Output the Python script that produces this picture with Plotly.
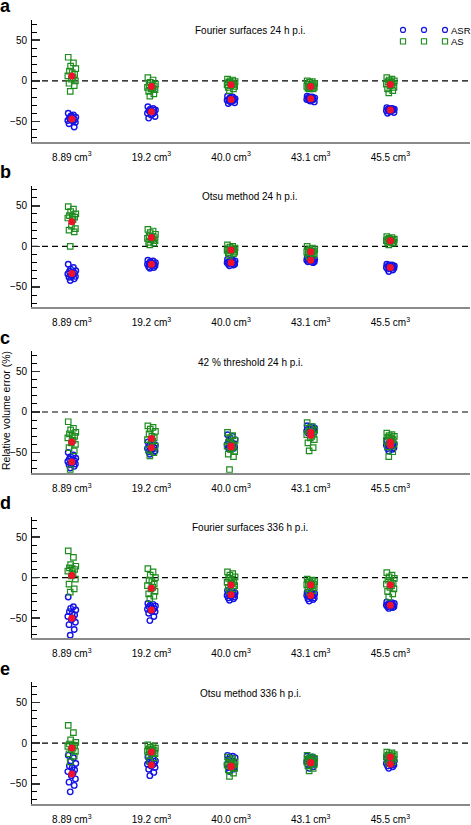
import plotly.graph_objects as go

# ---------------- data ----------------
CATEGORIES = ["8.89 cm<sup>3</sup>", "19.2 cm<sup>3</sup>", "40.0 cm<sup>3</sup>",
              "43.1 cm<sup>3</sup>", "45.5 cm<sup>3</sup>"]
PANEL_LETTERS = ["a", "b", "c", "d", "e"]
PANEL_TITLES = ["Fourier surfaces 24 h p.i.", "Otsu method 24 h p.i.",
                "42 % threshold 24 h p.i.", "Fourier surfaces 336 h p.i.",
                "Otsu method 336 h p.i."]
SERIES_NAMES = ["ASR", "AS"]
Y_LABEL = "Relative volume error (%)"

# horizontal jitter (category units) applied to the n-th repeat in each group
JITTER = [-0.045, 0.02, -0.015, 0.05, -0.03, 0.005, 0.035, -0.05, 0.015, -0.005, 0.045, -0.035, 0.03, -0.02]

A_ASR = [[-40, -42, -44, -45, -46, -47, -48, -49, -50, -43, -51, -53, -57, -46],
         [-32, -34, -35, -36, -37, -38, -39, -40, -41, -42, -44, -46, -36, -38],
         [-19, -20, -21, -22, -23, -23, -24, -24, -25, -26, -27, -28, -22, -25],
         [-19, -20, -20, -21, -22, -22, -23, -23, -24, -25, -26, -21, -22, -24],
         [-33, -34, -34, -35, -35, -36, -36, -37, -37, -38, -39, -40, -35, -36]]
A_AS = [[29, 22, 18, 15, 12, 10, 8, 6, 4, 2, 0, -3, -6, -13],
        [4, 1, -2, -4, -5, -6, -7, -8, -9, -10, -11, -13, -16, -19],
        [2, 1, 0, -1, -2, -3, -4, -5, -5, -6, -7, -8, -10, -12],
        [0, -1, -2, -3, -4, -5, -6, -7, -7, -8, -8, -9, -10, -10],
        [4, 2, 1, 0, -1, -2, -3, -4, -5, -6, -8, -10, -12, -15]]
A_ASR_MEAN = [-47, -38, -23, -22, -36]
A_AS_MEAN = [6, -7, -5, -7, -4.5]

B_ASR = [[-22, -26, -28, -30, -31, -32, -33, -34, -35, -36, -37, -38, -40, -42],
         [-17, -18, -19, -20, -21, -21, -22, -22, -23, -23, -24, -25, -26, -27],
         [-16, -17, -18, -18, -19, -19, -20, -20, -21, -21, -22, -22, -23, -24],
         [-14, -15, -15, -16, -16, -17, -17, -17, -18, -18, -19, -19, -20, -16],
         [-22, -23, -23, -24, -24, -25, -25, -26, -26, -27, -27, -28, -29, -31]]
B_AS = [[49, 46, 43, 40, 38, 37, 36, 35, 33, 25, 22, 20, 18, 0],
        [21, 19, 17, 15, 13, 12, 11, 10, 9, 8, 7, 5, 4, 2],
        [2, 0, -1, -2, -3, -4, -4, -5, -5, -6, -7, -8, -9, -11],
        [0, -2, -3, -4, -5, -6, -6, -7, -7, -8, -9, -10, -11, -13],
        [12, 11, 10, 9, 9, 8, 8, 7, 7, 6, 5, 5, 4, 2]]
B_ASR_MEAN = [-33.5, -22, -20, -17, -26]
B_AS_MEAN = [30.5, 11, -4.5, -6.6, 7]

C_ASR = [[-50, -53, -55, -57, -58, -59, -60, -61, -62, -63, -64, -65, -67, -69],
         [-37, -38, -40, -41, -42, -43, -44, -45, -46, -47, -48, -49, -50, -52],
         [-28, -30, -32, -34, -36, -38, -39, -40, -41, -42, -43, -44, -45, -46],
         [-17, -18, -19, -20, -21, -22, -22, -23, -24, -24, -25, -26, -20, -23],
         [-35, -37, -38, -39, -40, -40, -41, -41, -42, -43, -44, -45, -46, -48]]
C_AS = [[-12, -20, -22, -25, -27, -29, -30, -32, -35, -38, -40, -44, -48, -71],
        [-17, -19, -21, -24, -27, -30, -32, -34, -36, -38, -42, -46, -50, -54],
        [-25, -29, -32, -35, -37, -39, -41, -42, -44, -46, -49, -52, -55, -71],
        [-13, -18, -20, -22, -24, -26, -27, -28, -30, -32, -34, -38, -44, -48],
        [-26, -28, -29, -30, -31, -32, -34, -35, -36, -38, -40, -43, -49, -55]]
C_ASR_MEAN = [-61.5, -44, -42, -25, -41]
C_AS_MEAN = [-37, -32.6, -43, -28.5, -37]

D_ASR = [[-24, -36, -38, -40, -42, -44, -46, -48, -50, -52, -55, -58, -64, -71],
         [-32, -33, -34, -35, -36, -37, -38, -39, -40, -41, -42, -44, -48, -53],
         [-16, -17, -18, -19, -20, -20, -21, -22, -22, -23, -24, -25, -26, -28],
         [-18, -19, -20, -20, -21, -21, -22, -22, -23, -24, -25, -26, -27, -29],
         [-30, -31, -32, -32, -33, -33, -34, -34, -35, -35, -36, -36, -37, -38]]
D_AS = [[33, 25, 16, 14, 12, 11, 10, 8, 5, 2, -2, -8, -14, -18],
        [11, 7, 3, 0, -3, -5, -8, -10, -12, -14, -17, -20, -23, -26],
        [7, 5, 3, 1, -1, -3, -5, -6, -7, -8, -10, -12, -14, -16],
        [-2, -3, -4, -5, -6, -7, -8, -9, -10, -11, -12, -14, -16, -18],
        [6, 3, 1, -1, -3, -5, -7, -8, -10, -12, -14, -17, -20, -24]]
D_ASR_MEAN = [-50, -40, -21, -22, -34]
D_AS_MEAN = [2.5, -13, -9, -9, -9]

E_ASR = [[-15, -18, -22, -25, -28, -30, -33, -35, -37, -40, -44, -48, -52, -60],
         [-17, -19, -20, -22, -23, -24, -25, -26, -27, -28, -30, -32, -36, -40],
         [-15, -16, -17, -18, -20, -22, -24, -26, -27, -28, -29, -30, -32, -35],
         [-16, -17, -18, -19, -20, -21, -22, -23, -24, -25, -26, -27, -29, -31],
         [-19, -20, -21, -22, -23, -24, -25, -25, -26, -26, -27, -28, -29, -31]]
E_AS = [[22, 13, 4, 1, -1, -2, -3, -4, -6, -8, -10, -13, -16, -23],
        [-2, -4, -5, -6, -7, -8, -9, -10, -11, -12, -13, -15, -18, -22],
        [-17, -19, -21, -23, -24, -25, -26, -27, -28, -29, -31, -33, -37, -41],
        [-15, -17, -18, -19, -20, -21, -22, -23, -24, -25, -26, -28, -31, -34],
        [-11, -12, -13, -14, -15, -16, -16, -17, -18, -19, -20, -21, -23, -25]]
E_ASR_MEAN = [-38, -27, -28, -24, -26]
E_AS_MEAN = [-6, -11, -29, -24, -17]

PANELS = [(A_ASR, A_AS, A_ASR_MEAN, A_AS_MEAN),
          (B_ASR, B_AS, B_ASR_MEAN, B_AS_MEAN),
          (C_ASR, C_AS, C_ASR_MEAN, C_AS_MEAN),
          (D_ASR, D_AS, D_ASR_MEAN, D_AS_MEAN),
          (E_ASR, E_AS, E_ASR_MEAN, E_AS_MEAN)]

# ---------------- style / layout ----------------
W, H = 471, 825
BLUE = "#1414e6"
GREEN = "#1e8c1e"
RED = "#f2102a"
FONT = "Liberation Sans, Arial, Helvetica, sans-serif"
PANEL_TOP0, PANEL_STEP, PANEL_H = 20, 166, 122
X_LEFT, X_RIGHT = 32, 470


def px(x):
    return x / W


def py(y):
    return 1 - y / H


fig = go.Figure()
layout = dict(width=W, height=H, margin=dict(l=0, r=0, t=0, b=0),
              paper_bgcolor="white", plot_bgcolor="white", showlegend=False,
              font=dict(family=FONT, size=10, color="black"))
shapes, annotations = [], []
cat_pos = list(range(1, len(CATEGORIES) + 1))

for i, (asr, as_, asr_m, as_m) in enumerate(PANELS):
    n = "" if i == 0 else str(i + 1)
    xa, ya = "x" + n, "y" + n
    top = PANEL_TOP0 + PANEL_STEP * i
    bot = top + PANEL_H

    def pts(groups):
        xs, ys = [], []
        for j, g in enumerate(groups):
            for k, v in enumerate(g):
                xs.append(cat_pos[j] + JITTER[k % len(JITTER)])
                ys.append(v)
        return xs, ys

    bx, by = pts(asr)
    gx, gy = pts(as_)
    fig.add_trace(go.Scatter(x=bx, y=by, mode="markers", xaxis=xa, yaxis=ya, name=SERIES_NAMES[0],
                             marker=dict(symbol="circle-open", size=5.5, color=BLUE, line=dict(width=1.4, color=BLUE))))
    fig.add_trace(go.Scatter(x=gx, y=gy, mode="markers", xaxis=xa, yaxis=ya, name=SERIES_NAMES[1],
                             marker=dict(symbol="square-open", size=5.5, color=GREEN, line=dict(width=1.2, color=GREEN))))
    fig.add_trace(go.Scatter(x=cat_pos + cat_pos, y=list(asr_m) + list(as_m), mode="markers",
                             xaxis=xa, yaxis=ya, name="mean",
                             marker=dict(symbol="circle", size=7, color=RED, line=dict(width=0))))

    layout["xaxis" + n] = dict(domain=[px(X_LEFT), px(X_RIGHT)], anchor=ya, range=[0.5, 6.0],
                               tickmode="array", tickvals=cat_pos, ticktext=CATEGORIES,
                               ticks="", showgrid=False, zeroline=False, showline=True,
                               linecolor="#8a8a8a", linewidth=2, ticklabelstandoff=5,
                               tickfont=dict(size=10), fixedrange=True)
    layout["yaxis" + n] = dict(domain=[py(bot), py(top)], anchor=xa, range=[-75, 75],
                               tickmode="linear", tick0=0, dtick=50, ticks="inside", ticklen=8,
                               tickwidth=1.5, tickcolor="#333333",
                               minor=dict(dtick=10, tick0=0, ticks="inside", ticklen=5,
                                          tickwidth=1, tickcolor="black"),
                               showgrid=False, zeroline=False, showline=True,
                               linecolor="black", linewidth=1, tickfont=dict(size=10),
                               ticklabelstandoff=2, fixedrange=True)
    shapes.append(dict(type="line", xref=xa + " domain", yref=ya, x0=0, x1=1, y0=0, y1=0,
                       line=dict(color="black", width=1.2, dash="6px,4px"), layer="below"))
    annotations.append(dict(text=PANEL_TITLES[i], xref="paper", yref="paper",
                            x=px(250), y=py(top + 11), xanchor="center", yanchor="middle",
                            showarrow=False, font=dict(size=10)))
    zero_px = top + 60.5
    annotations.append(dict(text="<b>%s</b>" % PANEL_LETTERS[i], xref="paper", yref="paper",
                            x=px(-1), y=py(zero_px - 70 + 7), xanchor="left", yanchor="bottom",
                            showarrow=False, borderpad=0, font=dict(size=18)))

annotations.append(dict(text=Y_LABEL, xref="paper", yref="paper", x=px(6), y=py(412),
                        xanchor="center", yanchor="middle", textangle=-90, showarrow=False,
                        font=dict(size=10.5)))

# legend (drawn as keys + labels, as in the original)
for cx in (403, 424, 445):
    shapes.append(dict(type="circle", xref="paper", yref="paper",
                       x0=px(cx - 2.5), x1=px(cx + 2.5), y0=py(30 + 2.5), y1=py(30 - 2.5),
                       line=dict(color=BLUE, width=1.2)))
    shapes.append(dict(type="rect", xref="paper", yref="paper",
                       x0=px(cx - 2.6), x1=px(cx + 2.6), y0=py(41.5 + 2.6), y1=py(41.5 - 2.6),
                       line=dict(color=GREEN, width=1.1)))
annotations.append(dict(text=SERIES_NAMES[0], xref="paper", yref="paper", x=px(450), y=py(30.5),
                        xanchor="left", yanchor="middle", showarrow=False, borderpad=0,
                        font=dict(size=9.5)))
annotations.append(dict(text=SERIES_NAMES[1], xref="paper", yref="paper", x=px(450), y=py(42),
                        xanchor="left", yanchor="middle", showarrow=False, borderpad=0,
                        font=dict(size=9.5)))

layout["shapes"] = shapes
layout["annotations"] = annotations
fig.update_layout(**layout)
fig.write_html("out.html", config={"displayModeBar": False, "staticPlot": True},
               post_script="document.body.style.margin='0';")
